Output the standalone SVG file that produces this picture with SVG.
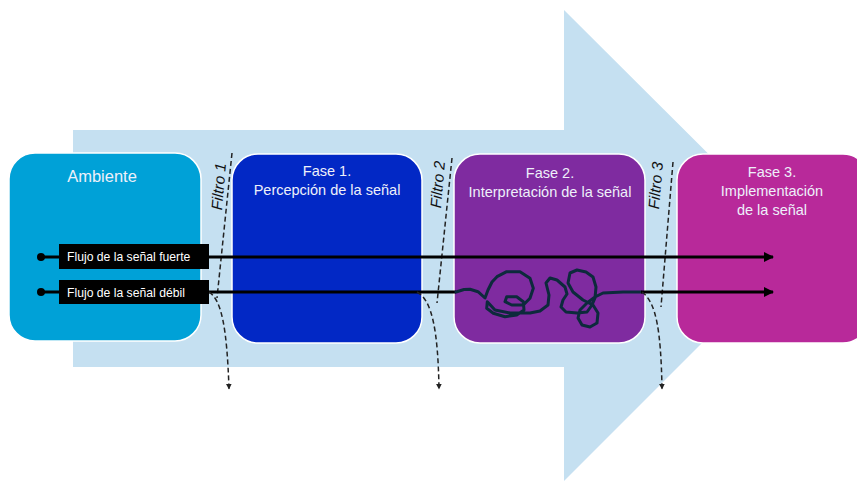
<svg xmlns="http://www.w3.org/2000/svg" width="857" height="481" viewBox="0 0 857 481">
<defs>
<style>
.box{stroke:#ffffff;stroke-width:1.5}
.t{font-family:"Liberation Sans",Arial,sans-serif;fill:#eef0fa;text-anchor:middle}
.ph{font-size:14.5px}
.fl{font-family:"Liberation Sans",Arial,sans-serif;font-size:15.5px;font-style:italic;fill:#111;text-anchor:middle}
.lab{font-family:"Liberation Sans",Arial,sans-serif;font-size:12.2px;fill:#ffffff}
.sig{stroke:#000;stroke-width:3;fill:none}
.dash{stroke:#222;stroke-width:1.5;stroke-dasharray:5,3;fill:none}
</style>
<marker id="ah" viewBox="0 0 10 10" refX="9" refY="5" markerWidth="10" markerHeight="10" markerUnits="userSpaceOnUse" orient="auto">
<path d="M0,0 L10,5 L0,10 z" fill="#000"/>
</marker>
<marker id="ahs" viewBox="0 0 10 10" refX="9" refY="5" markerWidth="6" markerHeight="6" markerUnits="userSpaceOnUse" orient="auto">
<path d="M0,0 L10,5 L0,10 z" fill="#222"/>
</marker>
</defs>
<rect width="857" height="481" fill="#ffffff"/>
<g id="big-arrow">
<polygon points="73,130 564,130 564,10 800,245 564,481 564,367 73,367" fill="#c5e0f1"/>
</g>
<g id="ambiente">
<rect class="box" x="9" y="153" width="192" height="188" rx="26" fill="#00a1d7"/>
<text class="t" x="102" y="182" font-size="16.5">Ambiente</text>
</g>
<g id="fase1">
<rect class="box" x="232" y="154" width="190" height="189" rx="26" fill="#0228c5"/>
<text class="t ph" x="327" y="176">Fase 1.</text>
<text class="t ph" x="327" y="195">Percepción de la señal</text>
</g>
<g id="fase2">
<rect class="box" x="454" y="154" width="191" height="189" rx="26" fill="#7f2ba0"/>
<text class="t ph" x="550" y="178">Fase 2.</text>
<text class="t ph" x="550" y="197">Interpretación de la señal</text>
</g>
<g id="fase3">
<rect class="box" x="677" y="154" width="192" height="189" rx="26" fill="#b8299a"/>
<text class="t ph" x="772" y="177">Fase 3.</text>
<text class="t ph" x="772" y="196">Implementación</text>
<text class="t ph" x="772" y="215">de la señal</text>
</g>
<g id="filtros">
<line class="dash" x1="232" y1="153" x2="217" y2="298"/>
<text class="fl" transform="translate(224,187) rotate(-85)">Filtro 1</text>
<line class="dash" x1="452" y1="158" x2="437" y2="303"/>
<text class="fl" transform="translate(443,185) rotate(-85)">Filtro 2</text>
<line class="dash" x1="673" y1="162" x2="661" y2="307"/>
<text class="fl" transform="translate(661,186) rotate(-85)">Filtro 3</text>
</g>
<g id="connectors">
<line class="sig" x1="41" y1="257" x2="773" y2="257" marker-end="url(#ah)"/>
<line class="sig" x1="41" y1="292" x2="456" y2="292"/>
<polyline fill="none" stroke="#0d2a3c" stroke-width="3" stroke-linejoin="round" stroke-linecap="round" points="456,292 464,289.5 470,289.3 478,291.7 485,298 488,290 492,282 497,276.7 506.7,271.7 520,271.7 530,278.3 533.3,288.3 530,298.3 523.3,305 511.7,305 505,301.7 506.7,296.7 516.7,296.7 523.3,301.7 524,310 516.7,315 505,316.7 493.3,313.3 486.7,308.3 487.3,301.7 495,310 510,313 530,313 540,311 548,305 549,295 546,283 550,278 557,280 565,287 567,294 563,300 561,307 566,312 577,313 587,312 592,305 595,298 596,287 593,277 586,272 577,270 570,273 568,283 573,292 583,300 593,305 598,313 597,323 590,327 582,325 578,318 580,310 587,303 595,297 603,293 623,292 641,292"/>
<line class="sig" x1="641" y1="292" x2="773" y2="292" marker-end="url(#ah)"/>
<circle cx="41" cy="257" r="4" fill="#000"/>
<circle cx="41" cy="292" r="4" fill="#000"/>
<path class="dash" d="M209,292 C222,300 227,330 229,389" marker-end="url(#ahs)"/>
<path class="dash" d="M417,292 C432,300 438,330 439,389" marker-end="url(#ahs)"/>
<path class="dash" d="M642,292 C656,302 661,330 662,389" marker-end="url(#ahs)"/>
</g>
<g id="label-fuerte">
<rect x="59" y="244" width="150" height="25" fill="#000"/>
<text class="lab" x="67" y="261">Flujo de la señal fuerte</text>
</g>
<g id="label-debil">
<rect x="59" y="280" width="150" height="24" fill="#000"/>
<text class="lab" x="67" y="296.5">Flujo de la señal débil</text>
</g>
</svg>
